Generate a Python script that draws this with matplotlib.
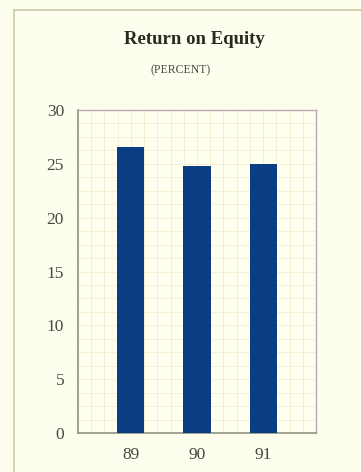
import numpy as np
import matplotlib.pyplot as plt
from matplotlib.lines import Line2D

years = ['89', '90', '91']
roe = [26.6, 24.8, 25.0]
yticks = [0, 5, 10, 15, 20, 25, 30]

W, H = 361, 472
bg = '#fefeee'
bar_color = '#0b3d82'
text_color = '#4a4a44'

fig = plt.figure(figsize=(W / 100, H / 100), dpi=100, facecolor=bg)
plt.rcParams['font.family'] = ['Liberation Serif', 'DejaVu Serif']

# axes box in pixels: left 78, right 316, top 110, bottom 433
ax = fig.add_axes([78 / W, 1 - 433 / H, (316 - 78) / W, (433 - 110) / H])
ax.set_facecolor('#fffff0')

x = np.arange(len(years))
ax.bar(x, roe, width=0.41, color=bar_color, zorder=3)

ax.set_xlim(-0.8, 2.8)
ax.set_ylim(0, 30)

# faint graph-paper grid
for gx in np.arange(-0.8, 2.8, 0.2):
    ax.axvline(gx, color='#f6efd2', lw=0.7, zorder=1)
for gy in np.arange(0, 30, 1.25):
    ax.axhline(gy, color='#f6efd2', lw=0.7, zorder=1)

ax.set_xticks(x)
ax.set_xticklabels(years)
ax.set_yticks(yticks)
ax.tick_params(length=0, labelsize=12.5, colors=text_color, pad=10)
ax.tick_params(axis='y', pad=10)

for side in ['top', 'right']:
    ax.spines[side].set_color('#b9a8b8')
    ax.spines[side].set_linewidth(1.0)
for side in ['left', 'bottom']:
    ax.spines[side].set_color('#8d9480')
    ax.spines[side].set_linewidth(1.2)

fig.text(194 / W, 1 - 40 / H, 'Return on Equity', ha='center', va='center',
         fontsize=13.5, fontweight='bold', color='#2a2a22')
fig.text(181 / W, 1 - 70 / H, '(PERCENT)', ha='center', va='center',
         fontsize=8.5, color=text_color)

# outer frame lines
frame_color = '#cfd0ae'
fig.add_artist(Line2D([14 / W, 14 / W], [0, 1 - 10 / H], transform=fig.transFigure,
                      color=frame_color, lw=1.3))
fig.add_artist(Line2D([14 / W, 1], [1 - 10 / H, 1 - 10 / H], transform=fig.transFigure,
                      color=frame_color, lw=1.3))

fig.savefig('out.png', dpi=100, facecolor=bg)
